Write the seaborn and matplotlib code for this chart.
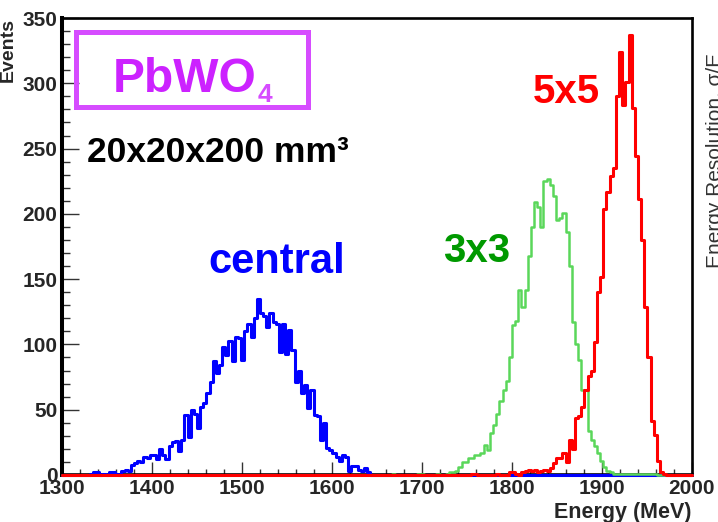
import numpy as np
import pandas as pd
import matplotlib
matplotlib.use("Agg")
import matplotlib.pyplot as plt
import seaborn as sns
from matplotlib.patches import Rectangle
from matplotlib.ticker import MultipleLocator

# ---------------- data (counts per 3.5 MeV bin) ----------------
E_MIN, E_MAX, N_BINS = 1300, 2000, 200

central_first_bin = 9
central_counts = [1, 2, 2, 0, 1, 0, 2, 2, 1, 0,
                  3, 4, 3, 8, 9, 11, 10, 14, 13, 15,
                  15, 12, 20, 15, 12, 22, 25, 26, 18, 27,
                  46, 29, 50, 47, 36, 52, 55, 63, 71, 87,
                  78, 84, 98, 92, 103, 87, 106, 105, 88, 110,
                  116, 106, 120, 135, 124, 122, 113, 124, 117, 116,
                  94, 116, 93, 111, 96, 71, 80, 63, 69, 51,
                  65, 46, 45, 27, 40, 21, 19, 17, 14, 11,
                  15, 14, 3, 7, 7, 4, 3, 5, 2]

sum3x3_first_bin = 105
sum3x3_counts = [1, 0, 0, 0, 0, 0, 0, 0, 1, 1,
                 0, 0, 0, 0, 1, 0, 0, 1, 2, 2,
                 3, 6, 10, 10, 13, 13, 15, 15, 17, 23,
                 19, 32, 38, 47, 57, 65, 72, 90, 115, 118,
                 142, 129, 142, 168, 190, 209, 205, 190, 225, 227,
                 222, 214, 195, 197, 201, 186, 160, 117, 100, 88,
                 65, 65, 34, 27, 22, 17, 11, 6, 3, 2,
                 1, 1, 1, 1, 1, 1, 1, 1, 1, 1,
                 1, 1, 1, 1]

sum5x5_first_bin = 130
sum5x5_counts = [1, 1, 0, 0, 0, 0, 0, 0, 1, 0,
                 0, 0, 2, 2, 1, 0, 2, 3, 4, 3,
                 4, 2, 3, 4, 3, 5, 9, 13, 13, 17,
                 10, 27, 20, 44, 45, 52, 65, 76, 80, 102,
                 140, 152, 204, 217, 229, 235, 290, 324, 283, 301,
                 337, 281, 244, 211, 180, 129, 90, 41, 31, 11,
                 2, 1]

series_names = ["central", "3x3", "5x5"]
x_ticks = [1300, 1400, 1500, 1600, 1700, 1800, 1900, 2000]
y_ticks = [0, 50, 100, 150, 200, 250, 300, 350]

# ---------------- build table ----------------
bin_width = (E_MAX - E_MIN) / N_BINS
centers = E_MIN + bin_width * (np.arange(N_BINS) + 0.5)
frames = []
for name, first, counts in zip(series_names,
                               [central_first_bin, sum3x3_first_bin, sum5x5_first_bin],
                               [central_counts, sum3x3_counts, sum5x5_counts]):
    full = np.zeros(N_BINS)
    full[first:first + len(counts)] = counts
    frames.append(pd.DataFrame({"energy": centers, "events": full, "series": name}))
df = pd.concat(frames, ignore_index=True)

# ---------------- style ----------------
sns.set_theme(style="white")
plt.rcParams["font.family"] = ["Liberation Sans", "DejaVu Sans"]
plt.rcParams["font.weight"] = "bold"
plt.rcParams["axes.labelweight"] = "bold"

fig = plt.figure(figsize=(7.18, 5.22), dpi=100)
ax = fig.add_axes([61.5 / 718, 1 - 475 / 522, 630 / 718, 457 / 522])

line_colors = {"central": "#0000ff", "3x3": "#5ad75a", "5x5": "#ff0000"}
line_widths = {"central": 2.2, "3x3": 1.8, "5x5": 2.2}
for name in series_names:
    sub = df[df["series"] == name]
    sns.histplot(data=sub, x="energy", weights="events",
                 binwidth=bin_width, binrange=(E_MIN, E_MAX),
                 element="step", fill=False, color=line_colors[name],
                 linewidth=line_widths[name], ax=ax, legend=False)
for ln in ax.lines:
    ln.set_clip_on(False)
    ln.set_zorder(3)

ax.set_xlim(E_MIN, E_MAX)
ax.set_ylim(0, 350)
ax.set_xticks(x_ticks)
ax.set_yticks(y_ticks)
ax.set_xticklabels([str(t) for t in x_ticks], fontweight="bold")
ax.set_yticklabels([str(t) for t in y_ticks], fontweight="bold")
ax.xaxis.set_minor_locator(MultipleLocator(20))
ax.yaxis.set_minor_locator(MultipleLocator(10))
ax.tick_params(axis="x", which="major", direction="in", length=9.5, width=1.0,
               color="#333333", labelsize=15, pad=3, bottom=True, top=False)
ax.tick_params(axis="x", which="minor", direction="in", length=4.5, width=1.0,
               color="#333333", bottom=True, top=False)
ax.tick_params(axis="y", which="major", direction="in", length=12, width=1.0,
               color="#333333", labelsize=15, pad=3, left=True, right=False)
ax.tick_params(axis="y", which="minor", direction="in", length=6, width=1.0,
               color="#333333", left=True, right=False)

for side, lw in [("left", 2.9), ("bottom", 2.6), ("top", 1.9), ("right", 1.9)]:
    ax.spines[side].set_visible(True)
    ax.spines[side].set_linewidth(lw)
    ax.spines[side].set_color("black")

ax.set_xlabel("Energy (MeV)", fontsize=15.5, fontweight="bold", loc="right")
ax.xaxis.set_label_coords(1.0, -0.058)
ax.set_ylabel("Events", fontsize=14, fontweight="bold", loc="top")
ax.yaxis.set_label_coords(-0.071, 1.0)

# ---------------- annotations ----------------
ax.add_patch(Rectangle((0.0238, 0.8057), 0.392 - 0.0238, 0.9698 - 0.8057,
                       transform=ax.transAxes, fill=False,
                       edgecolor="#d64cff", linewidth=3.6, zorder=4))
ax.text(0.0817, 0.838, "PbWO", transform=ax.transAxes, fontsize=34.5,
        fontweight="bold", color="#cc22ff", ha="left", va="baseline")
ax.text(0.311, 0.816, "4", transform=ax.transAxes, fontsize=19,
        fontweight="bold", color="#d64cff", ha="left", va="baseline")
ax.text(0.0405, 0.685, "20x20x200 mm³", transform=ax.transAxes, fontsize=25.5,
        fontweight="bold", color="black", ha="left", va="baseline")
ax.text(0.2325, 0.442, "central", transform=ax.transAxes, fontsize=30,
        fontweight="bold", color="#0000ff", ha="left", va="baseline")
ax.text(0.6056, 0.466, "3x3", transform=ax.transAxes, fontsize=29,
        fontweight="bold", color="#009900", ha="left", va="baseline")
ax.text(0.748, 0.814, "5x5", transform=ax.transAxes, fontsize=29,
        fontweight="bold", color="#ff0000", ha="left", va="baseline")

# clipped title of the neighbouring panel at the right edge
fig.text(706 / 718, 1 - 268 / 522, "Energy Resolution, σ/E", rotation=90,
         fontsize=15, fontweight="normal", color="#333333",
         ha="left", va="bottom")

fig.savefig("out.png", dpi=100, facecolor="white")
